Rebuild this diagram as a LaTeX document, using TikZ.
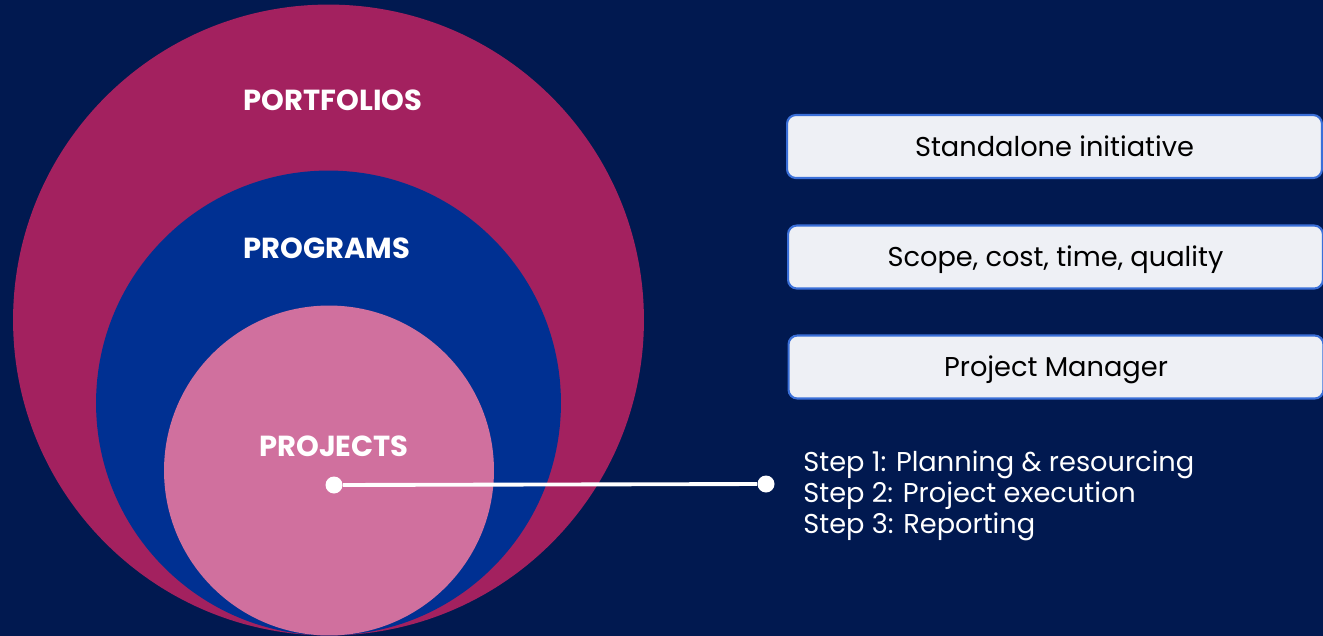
\documentclass[tikz,border=0pt]{standalone}
\usepackage{fontspec}
\setmainfont{Poppins}
\usetikzlibrary{positioning}
\definecolor{navy}{HTML}{011950}
\definecolor{portcol}{HTML}{A3215F}
\definecolor{progcol}{HTML}{003092}
\definecolor{projcol}{HTML}{D0709E}
\definecolor{boxfill}{HTML}{EEF0F5}
\definecolor{boxline}{HTML}{3A6FD8}
\begin{document}
\begin{tikzpicture}[x=0.02cm, y=-0.02cm,
    ring/.style={circle, inner sep=0pt, outer sep=0pt},
    level/.style={text=white, font=\fontsize{16.5}{19}\selectfont\bfseries},
    infobox/.style={draw=boxline, line width=1.2pt, fill=boxfill, rounded corners=5pt,
        minimum width=10.7cm, minimum height=1.26cm, text height=0.5cm, text depth=0.12cm,
        font=\fontsize{15.5}{18}\selectfont},
    dot/.style={circle, fill=white, inner sep=0pt, minimum size=0.34cm}]
    % Hintergrund
    \fill[navy] (0,0) rectangle (1323,636);
    \useasboundingbox (0,0) rectangle (1323,636);
    % Kreise
    \node[ring, fill=portcol, minimum size=12.62cm] (portfolios) at (328.5,320) {};
    \node[ring, fill=progcol, minimum size=9.3cm] (programs) at (328.5,403) {};
    \node[ring, fill=projcol, minimum size=6.6cm] (projects) at (329,470.5) {};
    % Beschriftungen
    \node[level] (portlabel) at (333,100) {PORTFOLIOS};
    \node[level] (proglabel) at (327,248) {PROGRAMS};
    \node[level] (projlabel) at (334,446) {PROJECTS};
    % Kaesten rechts
    \node[infobox] (standalone) at (1054.5,146.5) {Standalone initiative};
    \node[infobox] (scope) at (1055.5,257) {Scope, cost, time, quality};
    \node[infobox] (manager) at (1056,367) {Project Manager};
    % Verbindung
    \node[dot] (start) at (334,485) {};
    \node[dot] (stop) at (766,484) {};
    \draw[white, line width=2.2pt] (start) -- (stop);
    % Schritte
    \node[anchor=north west, text=white, align=left, inner sep=0pt,
        font=\fontsize{15.5}{17.9}\selectfont] (steps) at (803,450)
        {Step 1: Planning \& resourcing\\Step 2: Project execution\\Step 3: Reporting};
\end{tikzpicture}
\end{document}
